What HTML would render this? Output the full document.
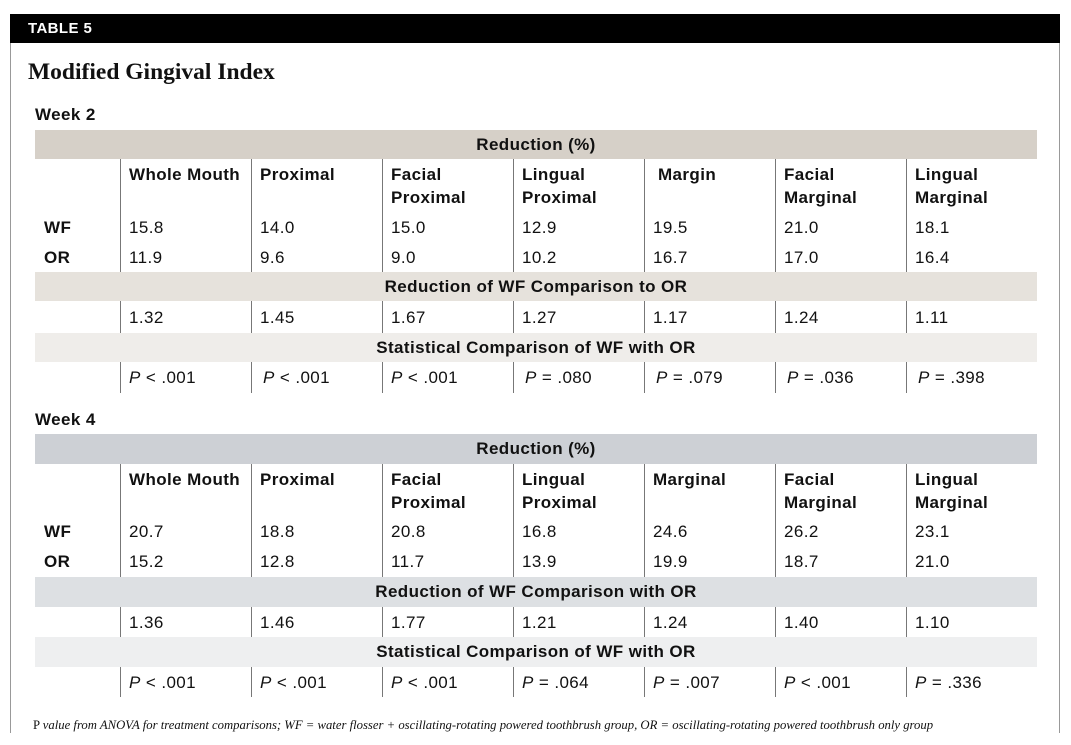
<!DOCTYPE html><html><head><meta charset="utf-8"><style>
body{margin:0;width:1071px;height:745px;background:#fff;position:relative;overflow:hidden;font-family:"Liberation Sans",sans-serif;color:#111}
div{position:absolute}
.t{font-size:17px;line-height:23px;white-space:nowrap;letter-spacing:0.4px}
.b{font-weight:bold}
.v{width:1px;background:#777}
.band{left:35px;width:1002px;text-align:center;font-weight:bold;font-size:17px;letter-spacing:0.4px}
</style></head><body>
<div style="left:10px;top:14px;width:1050px;height:29px;background:#000"></div>
<div class="t b" style="left:28px;top:17px;color:#fff;font-size:15px">TABLE 5</div>
<div style="left:10px;top:43px;width:1px;height:690px;background:#999"></div>
<div style="left:1059px;top:43px;width:1px;height:690px;background:#999"></div>
<div style="left:28px;top:59px;font-family:'Liberation Serif',serif;font-weight:bold;font-size:23.5px">Modified Gingival Index</div>

<div class="t b" style="left:35px;top:103px">Week 2</div>
<div class="band" style="top:130px;height:29px;line-height:29px;background:#d6d0c8">Reduction (%)</div>
<div class="band" style="top:272px;height:29px;line-height:29px;background:#e6e2dc">Reduction of WF Comparison to OR</div>
<div class="band" style="top:333px;height:29px;line-height:29px;background:#efedea">Statistical Comparison of WF with OR</div>

<div class="t b" style="left:44px;top:216px">WF</div>
<div class="t b" style="left:44px;top:246px">OR</div>

<div class="v" style="left:120px;top:159px;height:113px"></div><div class="v" style="left:120px;top:301px;height:32px"></div><div class="v" style="left:120px;top:362px;height:31px"></div>
<div class="v" style="left:251px;top:159px;height:113px"></div><div class="v" style="left:251px;top:301px;height:32px"></div><div class="v" style="left:251px;top:362px;height:31px"></div>
<div class="v" style="left:382px;top:159px;height:113px"></div><div class="v" style="left:382px;top:301px;height:32px"></div><div class="v" style="left:382px;top:362px;height:31px"></div>
<div class="v" style="left:513px;top:159px;height:113px"></div><div class="v" style="left:513px;top:301px;height:32px"></div><div class="v" style="left:513px;top:362px;height:31px"></div>
<div class="v" style="left:644px;top:159px;height:113px"></div><div class="v" style="left:644px;top:301px;height:32px"></div><div class="v" style="left:644px;top:362px;height:31px"></div>
<div class="v" style="left:775px;top:159px;height:113px"></div><div class="v" style="left:775px;top:301px;height:32px"></div><div class="v" style="left:775px;top:362px;height:31px"></div>
<div class="v" style="left:906px;top:159px;height:113px"></div><div class="v" style="left:906px;top:301px;height:32px"></div><div class="v" style="left:906px;top:362px;height:31px"></div>

<div class="t b" style="left:129px;top:163px">Whole Mouth</div>
<div class="t b" style="left:260px;top:163px">Proximal</div>
<div class="t b" style="left:391px;top:163px">Facial<br>Proximal</div>
<div class="t b" style="left:522px;top:163px">Lingual<br>Proximal</div>
<div class="t b" style="left:658px;top:163px">Margin</div>
<div class="t b" style="left:784px;top:163px">Facial<br>Marginal</div>
<div class="t b" style="left:915px;top:163px">Lingual<br>Marginal</div>

<div class="t" style="left:129px;top:216px">15.8</div><div class="t" style="left:260px;top:216px">14.0</div><div class="t" style="left:391px;top:216px">15.0</div><div class="t" style="left:522px;top:216px">12.9</div><div class="t" style="left:653px;top:216px">19.5</div><div class="t" style="left:784px;top:216px">21.0</div><div class="t" style="left:915px;top:216px">18.1</div>
<div class="t" style="left:129px;top:246px">11.9</div><div class="t" style="left:260px;top:246px">9.6</div><div class="t" style="left:391px;top:246px">9.0</div><div class="t" style="left:522px;top:246px">10.2</div><div class="t" style="left:653px;top:246px">16.7</div><div class="t" style="left:784px;top:246px">17.0</div><div class="t" style="left:915px;top:246px">16.4</div>
<div class="t" style="left:129px;top:306px">1.32</div><div class="t" style="left:260px;top:306px">1.45</div><div class="t" style="left:391px;top:306px">1.67</div><div class="t" style="left:522px;top:306px">1.27</div><div class="t" style="left:653px;top:306px">1.17</div><div class="t" style="left:784px;top:306px">1.24</div><div class="t" style="left:915px;top:306px">1.11</div>
<div class="t" style="left:129px;top:366px"><i>P</i> &lt; .001</div><div class="t" style="left:263px;top:366px"><i>P</i> &lt; .001</div><div class="t" style="left:391px;top:366px"><i>P</i> &lt; .001</div><div class="t" style="left:525px;top:366px"><i>P</i> = .080</div><div class="t" style="left:656px;top:366px"><i>P</i> = .079</div><div class="t" style="left:787px;top:366px"><i>P</i> = .036</div><div class="t" style="left:918px;top:366px"><i>P</i> = .398</div>

<div class="t b" style="left:35px;top:408px">Week 4</div>
<div class="band" style="top:434px;height:30px;line-height:30px;background:#cdd0d5">Reduction (%)</div>
<div class="band" style="top:577px;height:30px;line-height:30px;background:#dde0e3">Reduction of WF Comparison with OR</div>
<div class="band" style="top:637px;height:30px;line-height:30px;background:#eeeff0">Statistical Comparison of WF with OR</div>

<div class="t b" style="left:44px;top:520px">WF</div>
<div class="t b" style="left:44px;top:550px">OR</div>

<div class="v" style="left:120px;top:464px;height:113px"></div><div class="v" style="left:120px;top:607px;height:30px"></div><div class="v" style="left:120px;top:667px;height:30px"></div>
<div class="v" style="left:251px;top:464px;height:113px"></div><div class="v" style="left:251px;top:607px;height:30px"></div><div class="v" style="left:251px;top:667px;height:30px"></div>
<div class="v" style="left:382px;top:464px;height:113px"></div><div class="v" style="left:382px;top:607px;height:30px"></div><div class="v" style="left:382px;top:667px;height:30px"></div>
<div class="v" style="left:513px;top:464px;height:113px"></div><div class="v" style="left:513px;top:607px;height:30px"></div><div class="v" style="left:513px;top:667px;height:30px"></div>
<div class="v" style="left:644px;top:464px;height:113px"></div><div class="v" style="left:644px;top:607px;height:30px"></div><div class="v" style="left:644px;top:667px;height:30px"></div>
<div class="v" style="left:775px;top:464px;height:113px"></div><div class="v" style="left:775px;top:607px;height:30px"></div><div class="v" style="left:775px;top:667px;height:30px"></div>
<div class="v" style="left:906px;top:464px;height:113px"></div><div class="v" style="left:906px;top:607px;height:30px"></div><div class="v" style="left:906px;top:667px;height:30px"></div>

<div class="t b" style="left:129px;top:468px">Whole Mouth</div>
<div class="t b" style="left:260px;top:468px">Proximal</div>
<div class="t b" style="left:391px;top:468px">Facial<br>Proximal</div>
<div class="t b" style="left:522px;top:468px">Lingual<br>Proximal</div>
<div class="t b" style="left:653px;top:468px">Marginal</div>
<div class="t b" style="left:784px;top:468px">Facial<br>Marginal</div>
<div class="t b" style="left:915px;top:468px">Lingual<br>Marginal</div>

<div class="t" style="left:129px;top:520px">20.7</div><div class="t" style="left:260px;top:520px">18.8</div><div class="t" style="left:391px;top:520px">20.8</div><div class="t" style="left:522px;top:520px">16.8</div><div class="t" style="left:653px;top:520px">24.6</div><div class="t" style="left:784px;top:520px">26.2</div><div class="t" style="left:915px;top:520px">23.1</div>
<div class="t" style="left:129px;top:550px">15.2</div><div class="t" style="left:260px;top:550px">12.8</div><div class="t" style="left:391px;top:550px">11.7</div><div class="t" style="left:522px;top:550px">13.9</div><div class="t" style="left:653px;top:550px">19.9</div><div class="t" style="left:784px;top:550px">18.7</div><div class="t" style="left:915px;top:550px">21.0</div>
<div class="t" style="left:129px;top:611px">1.36</div><div class="t" style="left:260px;top:611px">1.46</div><div class="t" style="left:391px;top:611px">1.77</div><div class="t" style="left:522px;top:611px">1.21</div><div class="t" style="left:653px;top:611px">1.24</div><div class="t" style="left:784px;top:611px">1.40</div><div class="t" style="left:915px;top:611px">1.10</div>
<div class="t" style="left:129px;top:671px"><i>P</i> &lt; .001</div><div class="t" style="left:260px;top:671px"><i>P</i> &lt; .001</div><div class="t" style="left:391px;top:671px"><i>P</i> &lt; .001</div><div class="t" style="left:522px;top:671px"><i>P</i> = .064</div><div class="t" style="left:653px;top:671px"><i>P</i> = .007</div><div class="t" style="left:784px;top:671px"><i>P</i> &lt; .001</div><div class="t" style="left:915px;top:671px"><i>P</i> = .336</div>

<div style="left:33px;top:718px;font-family:'Liberation Serif',serif;font-size:12.7px;white-space:nowrap">P <i>value from ANOVA for treatment comparisons; WF = water flosser + oscillating-rotating powered toothbrush group, OR = oscillating-rotating powered toothbrush only group</i></div>
</body></html>
